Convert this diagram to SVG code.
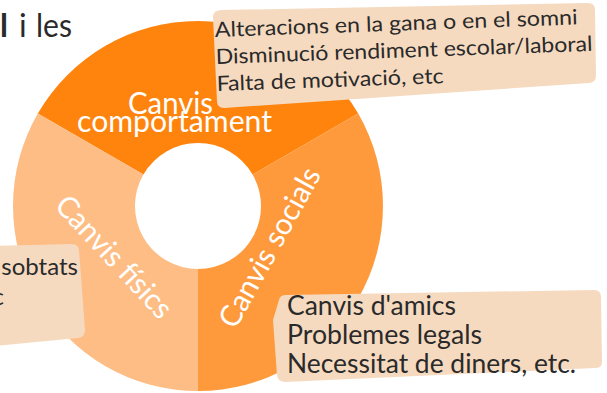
<svg xmlns="http://www.w3.org/2000/svg" width="607" height="393" viewBox="0 0 607 393">
<style>
.lbl{font-family:Lato,"Open Sans","Liberation Sans",sans-serif;fill:#ffffff;font-size:30px;font-weight:400}
.bx{fill:#f6dac0}
.t{font-family:Lato,"Open Sans","Liberation Sans",sans-serif;fill:#2a2a2a;font-weight:400}
</style>
<rect x="0" y="0" width="607" height="393" fill="#ffffff"/>
<g id="title">
<text class="t" y="37" font-size="32" font-weight="300"><tspan x="0" font-weight="700">l</tspan><tspan x="19">i</tspan><tspan x="36" textLength="36" lengthAdjust="spacingAndGlyphs">les</tspan></text>
</g>
<g id="seg-comportament">
<path d="M37.8,113.5 A185,185 0 0 1 358.2,113.5 L252.56,174.5 A63,63 0 0 0 143.44,174.5 Z" fill="#fe840e"/>
<text class="lbl" x="170.5" y="114" text-anchor="middle" textLength="85" lengthAdjust="spacingAndGlyphs">Canvis</text>
<text class="lbl" x="174.5" y="132" text-anchor="middle" textLength="195" lengthAdjust="spacingAndGlyphs">comportament</text>
</g>
<g id="seg-socials">
<path d="M358.2,113.5 A185,185 0 0 1 198,391 L198,269 A63,63 0 0 0 252.56,174.5 Z" fill="#fe9a3c"/>
<text class="lbl" x="0" y="0" text-anchor="middle" textLength="178" lengthAdjust="spacingAndGlyphs" transform="translate(278.6,252.4) rotate(-61)">Canvis socials</text>
</g>
<g id="seg-fisics">
<path d="M198,391 A185,185 0 0 1 37.8,113.5 L143.44,174.5 A63,63 0 0 0 198,269 Z" fill="#fdbd84"/>
<text class="lbl" x="0" y="0" text-anchor="middle" textLength="156" lengthAdjust="spacingAndGlyphs" transform="translate(106.6,263.8) rotate(47)">Canvis físics</text>
</g>
<g id="box-comportament">
<path class="bx" d="M222,10 L588,3 Q595,3 595,10 L596,76 Q596,82 589,83 L224,108 Q217,108 217,101 L215,60 L213,17 Q213,10 222,10 Z"/>
<g class="t" font-size="21" transform="rotate(-2 215 37)">
<text x="215" y="37" textLength="363" lengthAdjust="spacingAndGlyphs">Alteracions en la gana o en el somni</text>
<text x="215" y="64" textLength="377" lengthAdjust="spacingAndGlyphs">Disminució rendiment escolar/laboral</text>
<text x="215" y="91" textLength="227" lengthAdjust="spacingAndGlyphs">Falta de motivació, etc</text>
</g>
</g>
<g id="box-socials">
<path class="bx" d="M286,295 L594,290 Q601,290 601,297 L602,362 Q602,368 595,368 L285,382 Q278,382 277,375 L273,320 L279,300 Q280,295 286,295 Z"/>
<g class="t" font-size="26">
<text x="287" y="315" textLength="169" lengthAdjust="spacingAndGlyphs">Canvis d'amics</text>
<text x="287" y="344" textLength="195" lengthAdjust="spacingAndGlyphs">Problemes legals</text>
<text x="287" y="373" textLength="289" lengthAdjust="spacingAndGlyphs">Necessitat de diners, etc.</text>
</g>
</g>
<g id="box-fisics">
<path class="bx" d="M-5,246 L72,244 Q78,244 79,250 L85,330 Q85,337 78,338 L-5,346 Z"/>
<g class="t" font-size="24">
<text x="78" y="275" text-anchor="end">sobtats</text>
<text x="4" y="305" text-anchor="end">c</text>
</g>
</g>
<g id="connectors"/>
</svg>
